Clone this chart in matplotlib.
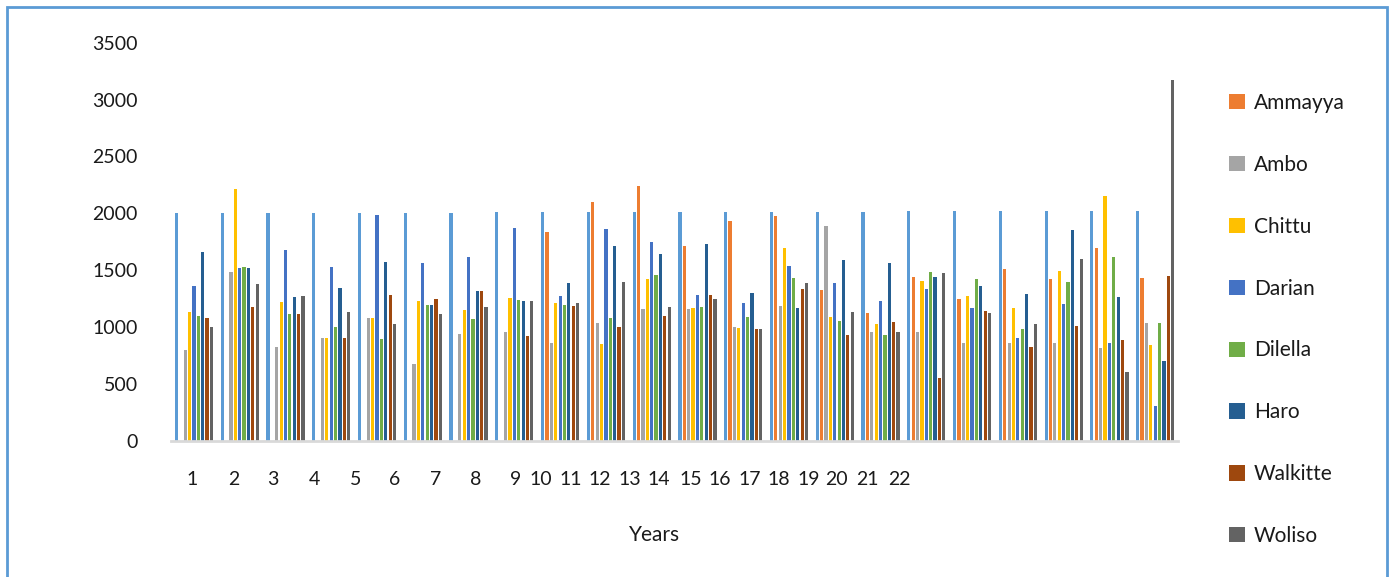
import numpy as np
import matplotlib
matplotlib.use("Agg")
import matplotlib.pyplot as plt
from matplotlib.patches import Rectangle

plt.rcParams['font.family'] = ['Lato', 'DejaVu Sans']

# annual rainfall (mm) per station, 22 years
years = [2000, 2001, 2002, 2003, 2004, 2005, 2006, 2007, 2008, 2009, 2010,
         2011, 2012, 2013, 2014, 2015, 2016, 2017, 2018, 2019, 2020, 2021]
ammayya = [0, 0, 0, 0, 0, 0, 0, 0, 1832, 2099, 2242,
           1712, 1929, 1976, 1325, 1126, 1436, 1246, 1513, 1419, 1694, 1431]
ambo = [797, 1480, 821, 902, 1078, 674, 938, 953, 856, 1032, 1161,
        1158, 1000, 1184, 1885, 953, 953, 862, 862, 856, 812, 1038]
chittu = [1135, 2210, 1219, 902, 1078, 1225, 1149, 1252, 1208, 850, 1419,
          1167, 991, 1697, 1084, 1026, 1401, 1272, 1167, 1489, 2152, 838]
darian = [1363, 1519, 1674, 1530, 1985, 1560, 1612, 1867, 1275, 1864, 1748,
          1284, 1211, 1536, 1387, 1231, 1337, 1167, 905, 1202, 862, 305]
dilella = [1093, 1528, 1112, 1000, 894, 1193, 1067, 1237, 1193, 1076, 1460,
           1173, 1090, 1428, 1049, 930, 1480, 1425, 982, 1399, 1612, 1035]
haro = [1656, 1519, 1263, 1346, 1569, 1193, 1317, 1228, 1384, 1714, 1639,
        1729, 1298, 1167, 1589, 1566, 1436, 1361, 1292, 1850, 1260, 703]
walkitte = [1076, 1173, 1112, 902, 1278, 1249, 1317, 921, 1184, 1000, 1099,
            1278, 982, 1334, 930, 1043, 554, 1138, 821, 1011, 882, 1448]
woliso = [1000, 1378, 1272, 1135, 1023, 1115, 1173, 1228, 1208, 1399, 1173,
          1243, 982, 1384, 1135, 953, 1471, 1120, 1023, 1601, 604, 3169]

tick_labels = [str(i) for i in range(1, 23)]

series = [('Years', years, '#5B9BD5'),
          ('Ammayya', ammayya, '#ED7D31'),
          ('Ambo', ambo, '#A5A5A5'),
          ('Chittu', chittu, '#FFC000'),
          ('Darian', darian, '#4472C4'),
          ('Dilella', dilella, '#70AD47'),
          ('Haro', haro, '#255E91'),
          ('Walkitte', walkitte, '#9E480E'),
          ('Woliso', woliso, '#636363')]

fig = plt.figure(figsize=(13.93, 5.77), dpi=100)
ax = fig.add_axes([0.1228, 0.2362, 0.7229, 0.6898])

x = np.arange(len(years))
step = 0.0956
width = 0.07
handles = []
for k, (name, vals, col) in enumerate(series):
    b = ax.bar(x + (k - 4) * step, vals, width, color=col, linewidth=0)
    if name != 'Years':
        handles.append((b, name))

ax.set_xlim(-0.5, 21.5)
ax.set_ylim(0, 3500)
ax.set_yticks(np.arange(0, 3501, 500))
ax.tick_params(axis='y', length=0, pad=24, labelsize=14, labelcolor='#1a1a1a')

# category labels sit where the spreadsheet put them
tick_pos = [-0.04, 0.87, 1.72, 2.64, 3.54, 4.39, 5.28, 6.16, 7.03, 7.57, 8.23,
            8.86, 9.52, 10.16, 10.85, 11.48, 12.14, 12.77, 13.43, 14.04, 14.72, 15.41]
ax.set_xticks(tick_pos)
ax.set_xticklabels(tick_labels)
ax.tick_params(axis='x', length=0, pad=22, labelsize=14, labelcolor='#1a1a1a')

for s in ['top', 'right', 'left']:
    ax.spines[s].set_visible(False)
ax.spines['bottom'].set_color('#D9D9D9')
ax.spines['bottom'].set_linewidth(2)

fig.text(655 / 1393, 1 - 535 / 577, 'Years', ha='center', va='center',
         fontsize=15, color='#1a1a1a')

leg = fig.legend([h for h, _ in handles], [n for _, n in handles],
                 loc='upper left', bbox_to_anchor=(1229 / 1393, 1 - 93 / 577),
                 frameon=False, fontsize=15, handlelength=0.75, handleheight=0.75,
                 handletextpad=0.45, labelspacing=2.01, borderpad=0, borderaxespad=0)
for t in leg.get_texts():
    t.set_color('#1a1a1a')

fig.patches.append(Rectangle((7 / 1393, -0.05), 1380 / 1393, 1.05 - 7 / 577,
                             transform=fig.transFigure, fill=False,
                             edgecolor='#5B9BD5', linewidth=2))

fig.savefig('out.png', dpi=100)
